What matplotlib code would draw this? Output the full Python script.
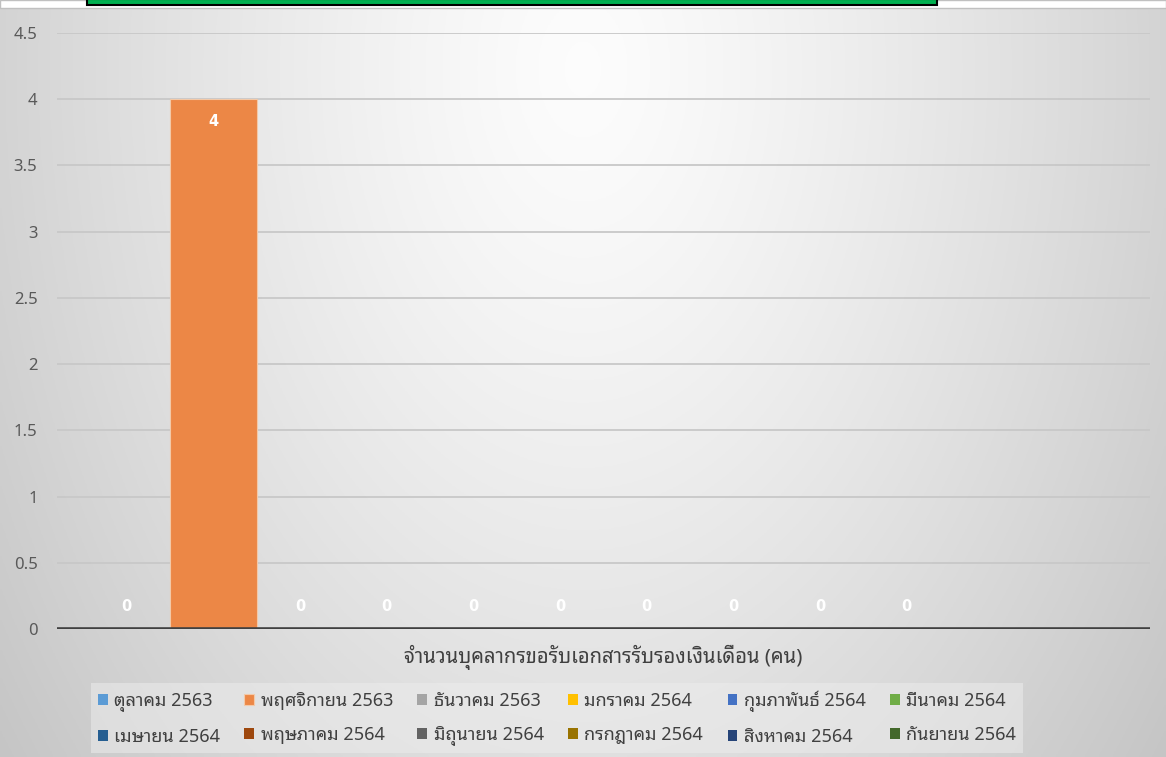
import numpy as np
import matplotlib
matplotlib.use('Agg')
import matplotlib.pyplot as plt
from matplotlib.patches import Rectangle

plt.rcParams['font.family'] = ['Noto Sans Thai Looped', 'DejaVu Sans']

# ข้อมูลจากกราฟ
months = ['ตุลาคม 2563', 'พฤศจิกายน 2563', 'ธันวาคม 2563', 'มกราคม 2564',
          'กุมภาพันธ์ 2564', 'มีนาคม 2564', 'เมษายน 2564', 'พฤษภาคม 2564',
          'มิถุนายน 2564', 'กรกฎาคม 2564', 'สิงหาคม 2564', 'กันยายน 2564']
counts = [0, 4, 0, 0, 0, 0, 0, 0, 0, 0, np.nan, np.nan]
colors = ['#5B9BD5', '#EC8746', '#A5A5A5', '#FFC000', '#4472C4', '#70AD47',
          '#255E91', '#9E480E', '#636363', '#997300', '#264478', '#43682B']
category_label = 'จำนวนบุคลากรขอรับเอกสารรับรองเงินเดือน (คน)'
yticks = [0, 0.5, 1, 1.5, 2, 2.5, 3, 3.5, 4, 4.5]

W, H = 1166, 757
fig = plt.figure(figsize=(W / 100, H / 100), dpi=100)
fig.patch.set_facecolor('white')

# พื้นหลังไล่เฉด (radial gradient แบบ Excel)
top_strip = 8
bg = fig.add_axes([0, 0, 1, (H - top_strip) / H], zorder=-10)
gx, gy = np.meshgrid(np.linspace(0, 1, 400), np.linspace(0, 1, 260))
dx = (gx - 0.5) / 0.5
dy = (gy - 0.08) / 0.92
r = np.sqrt(dx ** 2 + 0.6 * dy ** 2)
v = np.clip(0.99 - 0.16 * r ** 1.3, 0, 1)
bg.imshow(np.dstack([v, v, v]), extent=[0, 1, 0, 1], aspect='auto', origin='upper')
bg.axis('off')

# แถบด้านบน + กล่องสีเขียว (ถูกตัดขอบ)
fig.add_artist(Rectangle((0, (H - top_strip) / H), 1, top_strip / H,
                         transform=fig.transFigure, facecolor='white',
                         edgecolor='#c0c0c0', linewidth=1))
fig.add_artist(Rectangle((87 / W, (H - 5) / H), (937 - 87) / W, 6 / H,
                         transform=fig.transFigure, facecolor='#00B050',
                         edgecolor='black', linewidth=1.5))

# พื้นที่กราฟ
ax_left, ax_right, ax_top, ax_bottom = 57, 1150, 33, 629
ax = fig.add_axes([ax_left / W, 1 - ax_bottom / H,
                   (ax_right - ax_left) / W, (ax_bottom - ax_top) / H])
ax.patch.set_alpha(0)

n = len(months)
bar_w = 0.0793
offsets = (np.arange(n) - (n - 1) / 2) * bar_w
handles = []
for i in range(n):
    b = ax.bar(offsets[i], counts[i], width=bar_w, color=colors[i],
               edgecolor='#f3c9a8' if counts[i] > 0 else 'none', linewidth=0.8,
               label=months[i], zorder=3)
    handles.append(b)
    if not np.isnan(counts[i]):
        y = counts[i] - 0.17 if counts[i] > 0 else 0.17
        ax.text(offsets[i], y, f'{counts[i]:g}', ha='center', va='center',
                color='white', fontsize=10.5, fontweight='bold', zorder=4,
                family=['DejaVu Sans'])

ax.set_xlim(-0.5, 0.5)
ax.set_ylim(0, 4.5)
ax.set_yticks(yticks)
ax.set_yticklabels([f'{t:g}' for t in yticks])
ax.set_xticks([])
ax.tick_params(axis='y', length=0, pad=14, labelsize=12, labelcolor='#595959')
for s in ax.spines.values():
    s.set_visible(False)
ax.yaxis.grid(True, color='#c8c8c8', linewidth=1.3, zorder=0)
ax.axhline(0, color='#404040', linewidth=2.6, zorder=5)

fig.text((ax_left + ax_right) / 2 / W, 1 - 657 / H, category_label,
         ha='center', va='center', fontsize=14.5, color='#404040')

# คำอธิบายสัญลักษณ์ เรียงตามแถว 6 คอลัมน์
ncol = 6
order = [r_ * ncol + c for c in range(ncol) for r_ in range(2)]
leg = ax.legend([handles[k] for k in order], [months[k] for k in order],
                ncol=ncol, loc='center', bbox_to_anchor=(557 / W, 1 - 718 / H),
                bbox_transform=fig.transFigure, fontsize=13, frameon=True,
                handlelength=0.55, handleheight=0.55, handletextpad=0.35,
                columnspacing=1.35, labelspacing=0.9, borderpad=0.4,
                fancybox=False, labelcolor='#404040')
leg.get_frame().set_facecolor('#ececec')
leg.get_frame().set_alpha(0.55)
leg.get_frame().set_edgecolor('none')

fig.savefig('out.png', dpi=100)
